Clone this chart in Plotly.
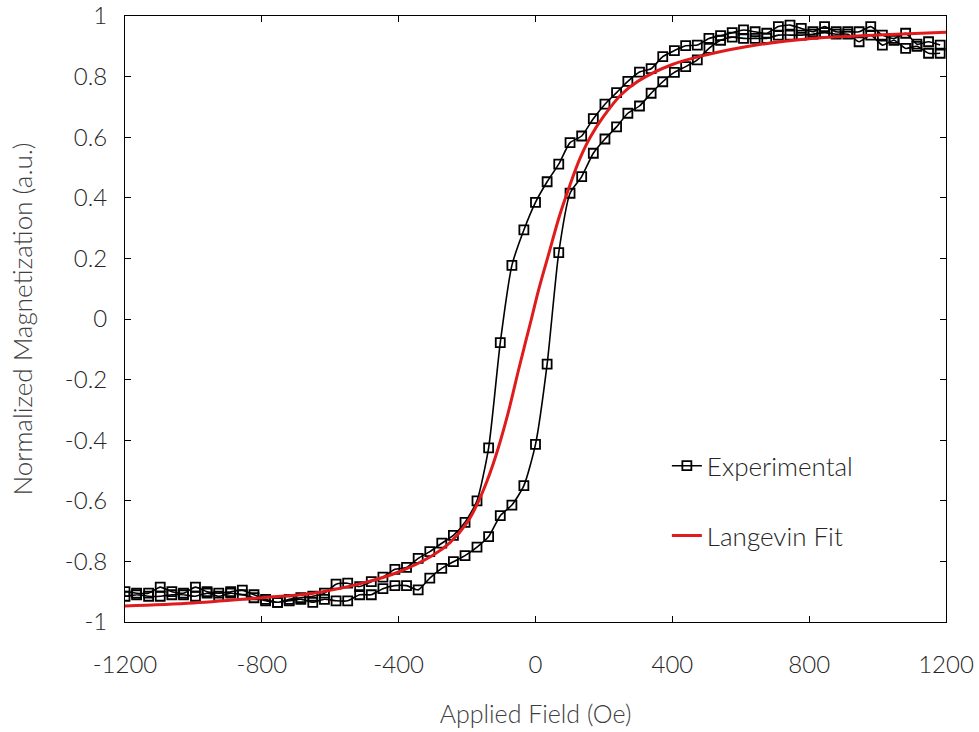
import plotly.graph_objects as go

# Applied field values (Oe), ascending, shared by both branches of the loop
field = [-1200, -1166, -1131, -1097, -1063, -1029, -994, -960, -926, -891,
         -857, -823, -789, -754, -720, -686, -651, -617, -583, -549,
         -514, -480, -446, -411, -377, -343, -309, -274, -240, -206,
         -171, -137, -103, -69, -34, 0,
         34, 68, 101, 135, 169, 203, 237, 270, 304, 338,
         372, 406, 439, 473, 507, 541, 575, 608, 642, 676,
         710, 744, 777, 811, 845, 879, 913, 946, 980, 1014,
         1048, 1082, 1115, 1149, 1183]

# Descending branch (from +H to -H), listed at ascending field
m_desc = [-0.900, -0.905, -0.905, -0.885, -0.900, -0.905, -0.885, -0.900, -0.905, -0.900,
          -0.895, -0.910, -0.925, -0.935, -0.925, -0.920, -0.915, -0.905, -0.875, -0.872,
          -0.883, -0.867, -0.852, -0.826, -0.820, -0.790, -0.768, -0.740, -0.714, -0.671,
          -0.600, -0.425, -0.078, 0.177, 0.294, 0.385,
          0.453, 0.511, 0.582, 0.604, 0.661, 0.709, 0.747, 0.784, 0.815, 0.826,
          0.866, 0.886, 0.902, 0.904, 0.926, 0.935, 0.945, 0.954, 0.948, 0.943,
          0.965, 0.970, 0.959, 0.948, 0.965, 0.948, 0.948, 0.948, 0.965, 0.937,
          0.926, 0.943, 0.907, 0.915, 0.904]

# Ascending branch (from -H to +H)
m_asc = [-0.915, -0.910, -0.915, -0.915, -0.910, -0.910, -0.915, -0.905, -0.915, -0.905,
         -0.910, -0.920, -0.930, -0.935, -0.930, -0.925, -0.935, -0.925, -0.930, -0.930,
         -0.910, -0.910, -0.890, -0.880, -0.880, -0.894, -0.855, -0.823, -0.801, -0.781,
         -0.753, -0.718, -0.649, -0.614, -0.550, -0.414,
         -0.149, 0.219, 0.415, 0.470, 0.547, 0.594, 0.634, 0.679, 0.703, 0.745,
         0.783, 0.814, 0.833, 0.855, 0.893, 0.920, 0.930, 0.926, 0.926, 0.926,
         0.937, 0.937, 0.937, 0.940, 0.945, 0.940, 0.940, 0.915, 0.937, 0.904,
         0.920, 0.893, 0.900, 0.877, 0.877]

# Langevin fit curve
fit_field = [-1200, -1000, -800, -650, -500, -400, -300, -250, -200, -170,
             -140, -110, -80, -50, -30, -12, 10, 40, 70, 100,
             130, 160, 200, 250, 300, 400, 500, 650, 800, 1000, 1200]
fit_m = [-0.947, -0.937, -0.920, -0.905, -0.870, -0.835, -0.780, -0.738, -0.672, -0.610,
         -0.530, -0.430, -0.310, -0.170, -0.080, 0.000, 0.100, 0.220, 0.340, 0.440,
         0.530, 0.600, 0.670, 0.740, 0.785, 0.840, 0.872, 0.905, 0.925, 0.937, 0.946]

x_ticks = [-1200, -800, -400, 0, 400, 800, 1200]
x_ticktext = ["-1200", "-800", "-400", "0", "400", "800", "1200"]
y_ticks = [-1, -0.8, -0.6, -0.4, -0.2, 0, 0.2, 0.4, 0.6, 0.8, 1]
y_ticktext = ["-1", "-0.8", "-0.6", "-0.4", "-0.2", "0", "0.2", "0.4", "0.6", "0.8", "1"]

loop_x = field[::-1] + field
loop_y = m_desc[::-1] + m_asc

FONT = "Lato, 'Open Sans', sans-serif"

fig = go.Figure()
fig.add_trace(go.Scatter(
    x=loop_x, y=loop_y, mode="lines+markers", name="Experimental",
    line=dict(color="black", width=1.6, shape="spline", smoothing=0.6),
    marker=dict(symbol="square-open", size=9, color="black", line=dict(width=1.8, color="black")),
    legendgroup="a",
))
fig.add_trace(go.Scatter(
    x=fit_field, y=fit_m, mode="lines", name="Langevin Fit",
    line=dict(color="#E01B1B", width=3, shape="spline", smoothing=1.0),
    legendgroup="b",
))

axis_common = dict(showline=True, linecolor="black", linewidth=1, mirror="ticks",
                   ticks="inside", ticklen=6, tickcolor="black", showgrid=False,
                   zeroline=False, automargin=False,
                   tickfont=dict(family=FONT, size=24, color="#262626", weight=300))

fig.update_layout(
    width=979, height=732,
    margin=dict(l=125, r=33, t=16, b=110),
    paper_bgcolor="white", plot_bgcolor="white",
    font=dict(family=FONT, color="#262626"),
    xaxis=dict(range=[-1200, 1200], tickvals=x_ticks, ticktext=x_ticktext,
               ticklabelstandoff=21,
               title=dict(text="Applied Field (Oe)",
                          font=dict(family=FONT, size=25, color="#404040", weight=300),
                          standoff=28),
               **axis_common),
    yaxis=dict(range=[-1, 1], tickvals=y_ticks, ticktext=y_ticktext,
               ticklabelstandoff=12,
               title=dict(text="Normalized Magnetization (a.u.)",
                          font=dict(family=FONT, size=26, color="#404040", weight=300),
                          standoff=24),
               **axis_common),
    legend=dict(x=0.660, y=0.20, xanchor="left", yanchor="middle",
                bgcolor="rgba(0,0,0,0)", tracegroupgap=33,
                font=dict(family=FONT, size=26, color="#262626", weight=300)),
    showlegend=True,
)

fig.write_html("out.html")
